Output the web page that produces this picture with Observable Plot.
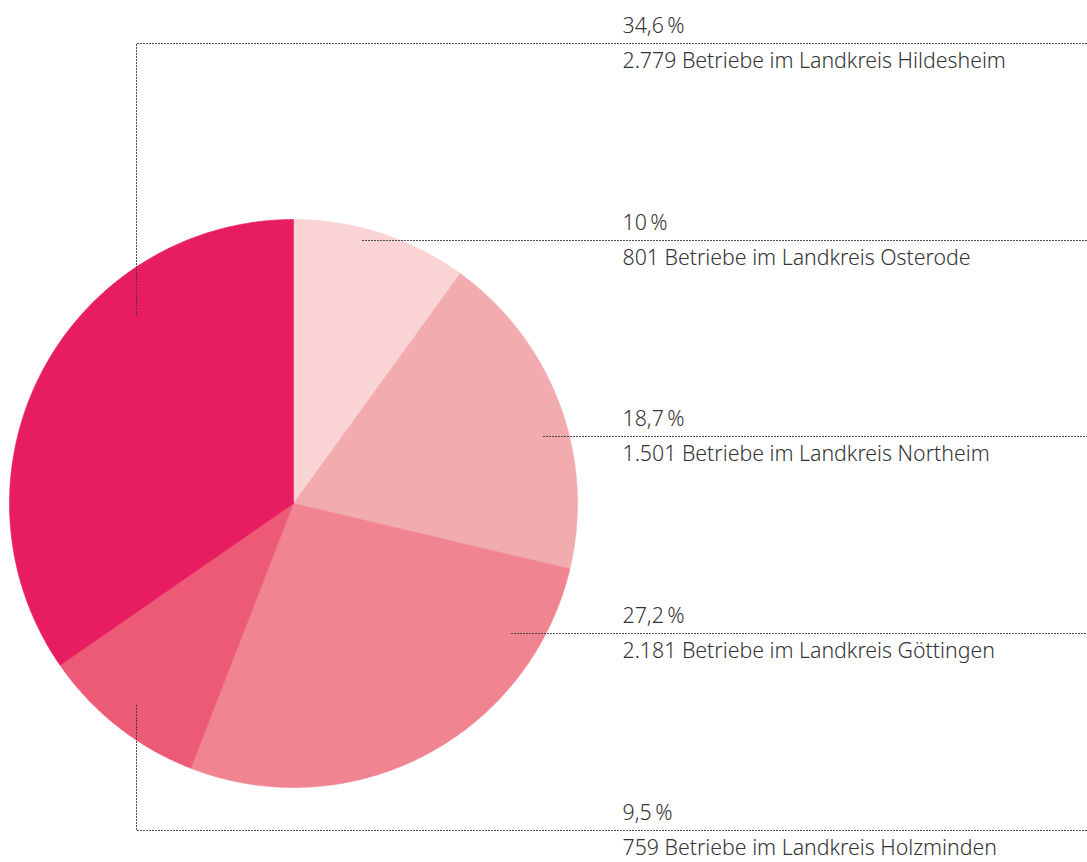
<!DOCTYPE html>
<html><head><meta charset="utf-8">
<script src="https://cdn.jsdelivr.net/npm/d3@7"></script>
<script src="https://cdn.jsdelivr.net/npm/@observablehq/plot@0.6"></script>
<style>body{margin:0;background:#fff}svg{display:block}</style>
</head><body><div id="chart"></div>
<script>
// ---- data ----
const districts = ["Osterode", "Northeim", "Göttingen", "Holzminden", "Hildesheim"];
const companies = [801, 1501, 2181, 759, 2779];
const shares = ["10", "18,7", "27,2", "9,5", "34,6"];
const sliceColors = ["#fad4d4", "#f2abae", "#f08490", "#ec5a75", "#e81c60"];

// ---- layout ----
const W = 1087, H = 862;
const cx = 293, cy = 503, R = 284;
const textX = 622, lineEnd = 1087;
const rowY = {Hildesheim: 43, Osterode: 240, Northeim: 436, "Göttingen": 633, Holzminden: 830};
const leaderStart = {Hildesheim: [136, 315], Osterode: [362, 240], Northeim: [543, 436], "Göttingen": [511, 633], Holzminden: [136, 705]};

// ---- slice geometry from data ----
const arcs = d3.pie().sort(null).value(d => d.n)(districts.map((name, i) => ({name, n: companies[i], color: sliceColors[i]})));
const slicePts = [];
for (const a of arcs) {
  const pts = [[cx, cy]];
  const steps = Math.max(2, Math.ceil((a.endAngle - a.startAngle) / (Math.PI / 360)));
  for (let k = 0; k <= steps; k++) {
    const t = a.startAngle + (a.endAngle - a.startAngle) * k / steps;
    pts.push([cx + R * Math.sin(t), cy - R * Math.cos(t)]);
  }
  pts.push([cx, cy]);
  for (const p of pts) slicePts.push({name: a.data.name, color: a.data.color, x: p[0], y: p[1]});
}

// ---- leader lines ----
const leaderPts = [];
for (const name of districts) {
  const [sx, sy] = leaderStart[name];
  const ry = rowY[name];
  leaderPts.push({name, x: sx, y: sy});
  if (sy !== ry) leaderPts.push({name, x: sx, y: ry});
  leaderPts.push({name, x: lineEnd, y: ry});
}

const labels = districts.map((name, i) => ({
  name,
  pct: shares[i] + "\u2009%",
  desc: d3.format(",")(companies[i]).replace(/,/g, ".") + " Betriebe im Landkreis " + name,
  y: rowY[name]
}));

const chart = Plot.plot({
  width: W, height: H,
  margin: 0,
  x: {domain: [0, W], range: [0, W], axis: null},
  y: {domain: [0, H], range: [0, H], axis: null},
  color: {type: "identity"},
  style: {fontFamily: "'Noto Sans', 'Open Sans', sans-serif", background: "#fff"},
  marks: [
    Plot.line(slicePts, {x: "x", y: "y", z: "name", fill: "color", stroke: "color", strokeWidth: 0.6, curve: "linear"}),
    Plot.line(leaderPts, {x: "x", y: "y", z: "name", stroke: "#3a3a3a", strokeWidth: 1, strokeDasharray: "1,2"}),
    Plot.text(labels, {x: () => textX, y: d => d.y - 11, text: "pct", textAnchor: "start", lineAnchor: "bottom", fontSize: 21.3, fontWeight: 300, fill: "#333"}),
    Plot.text(labels, {x: () => textX, y: d => d.y + 24, text: "desc", textAnchor: "start", lineAnchor: "bottom", fontSize: 21.3, fontWeight: 300, fill: "#333"})
  ]
});
document.getElementById("chart").append(chart);
</script>
</body></html>
